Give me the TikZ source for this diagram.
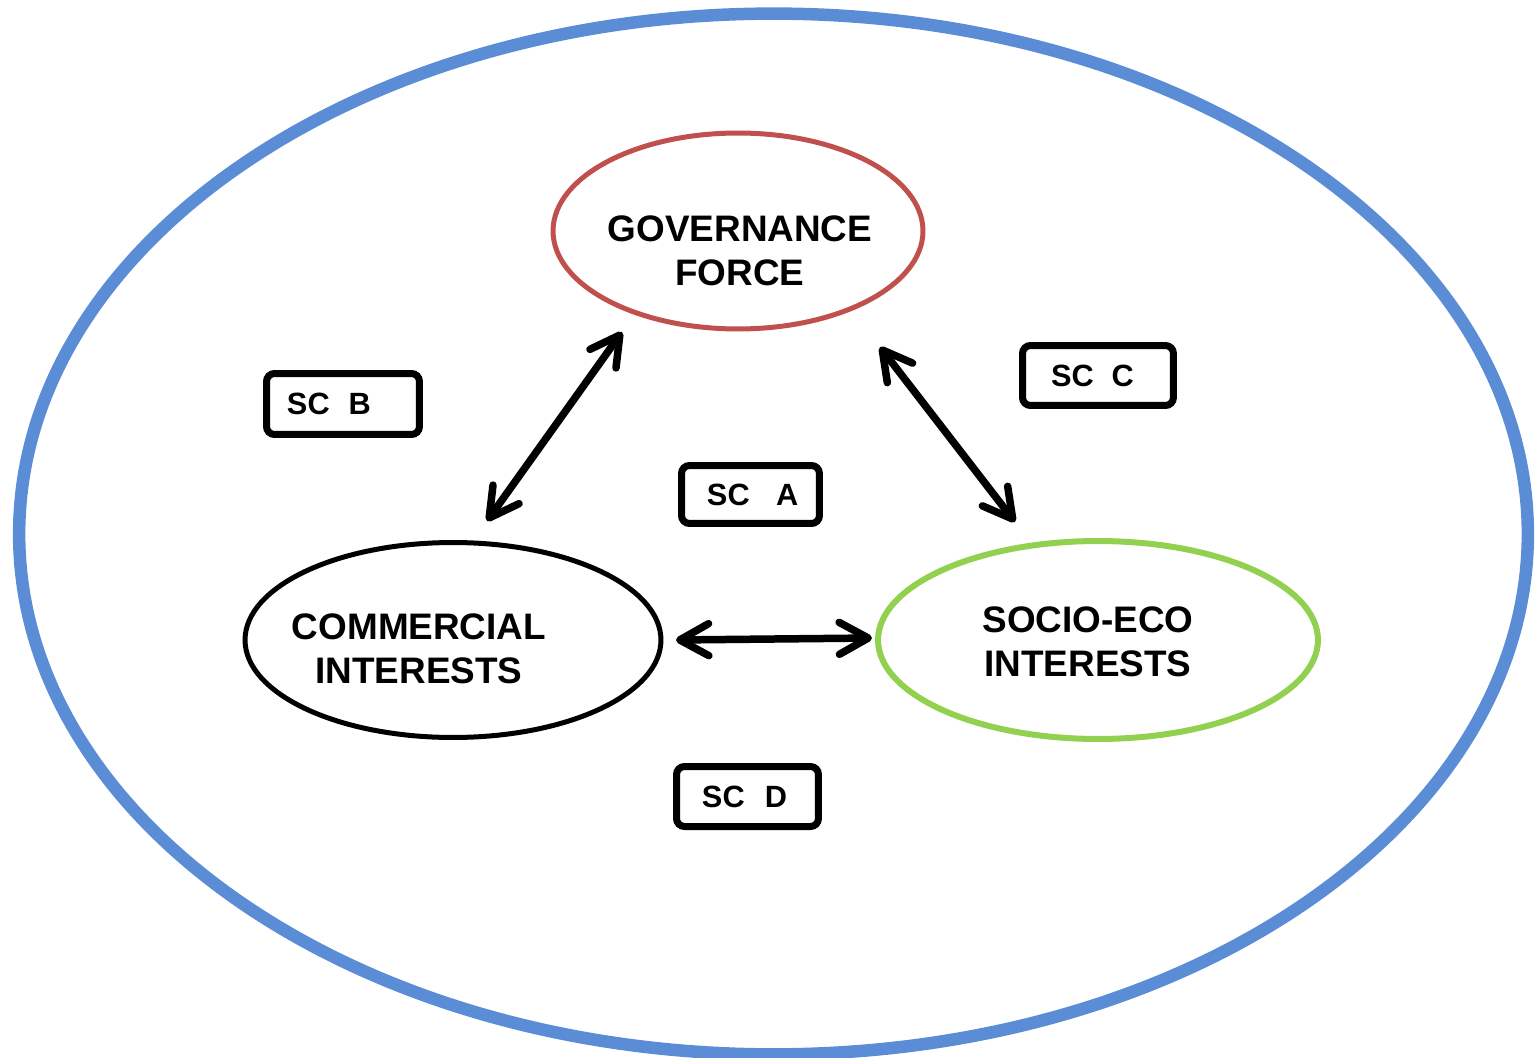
\documentclass[tikz,border=0pt]{standalone}
\usepackage{fontspec}
\setmainfont{Liberation Sans}
\usetikzlibrary{arrows.meta,shapes.geometric}
\definecolor{outerblue}{HTML}{5A8DD6}
\definecolor{govred}{HTML}{C0504D}
\definecolor{socgreen}{HTML}{92D050}
\tikzset{
  ell/.style={ellipse, draw, inner sep=0pt},
  lbl/.style={font=\fontsize{21}{25}\selectfont\bfseries, align=center},
  scbox/.style={draw, line width=0.14cm, rounded corners=0.16cm, minimum height=1.2cm,
    font=\fontsize{17.5}{20}\selectfont\bfseries, align=left, inner ysep=0pt, anchor=west},
  dbl/.style={line width=0.15cm, line cap=round,
    {Straight Barb[length=0.58cm,width=0.64cm,line cap=round,line join=round]}-{Straight Barb[length=0.58cm,width=0.64cm,line cap=round,line join=round]}}
}
\begin{document}
\begin{tikzpicture}[x=0.02cm,y=-0.02cm]
\useasboundingbox (0,0) rectangle (1536,1058);
% outer ellipse
\node[ell, draw=outerblue, line width=0.25cm, minimum width=30.18cm, minimum height=20.82cm] (outer) at (773.5,534) {};
% main ellipses
\node[ell, draw=govred, line width=0.1cm, minimum width=7.4cm, minimum height=3.92cm] (gov) at (738,231) {};
\node[ell, draw=black, line width=0.1cm, minimum width=8.32cm, minimum height=3.9cm] (com) at (453,640) {};
\node[ell, draw=socgreen, line width=0.12cm, minimum width=8.8cm, minimum height=3.96cm] (soc) at (1098,640) {};
% labels
\node[lbl] (govt) at (740,251) {GOVERNANCE\\FORCE};
\node[lbl] (comt) at (419,649) {COMMERCIAL\\INTERESTS};
\node[lbl] (soct) at (1088,642) {SOCIO-ECO\\INTERESTS};
% SC boxes (anchor west on the outer edge of the border)
\node[scbox, minimum height=1.22cm, inner xsep=0.41cm, text width=2.24cm] (scb) at (263,404) {\mbox{SC\hspace{0.62em}B}};
\node[scbox, inner xsep=0.57cm, text width=1.88cm] (scc) at (1019,375.5) {\mbox{SC\hspace{0.58em}C}};
\node[scbox, minimum height=1.16cm, inner xsep=0.51cm, text width=1.74cm] (sca) at (678,494.5) {\mbox{SC\hspace{0.86em}A}};
\node[scbox, inner xsep=0.51cm, text width=1.82cm] (scd) at (673,796.5) {\mbox{SC\hspace{0.66em}D}};
% arrow end points
\coordinate (g1) at (622,332);
\coordinate (c1) at (487,521);
\coordinate (g2) at (880,347);
\coordinate (s1) at (1015,522);
\coordinate (c2) at (676,640);
\coordinate (s2) at (872,638);
\draw[dbl] (c1) -- (g1);
\draw[dbl] (g2) -- (s1);
\draw[dbl] (c2) -- (s2);
\end{tikzpicture}
\end{document}
